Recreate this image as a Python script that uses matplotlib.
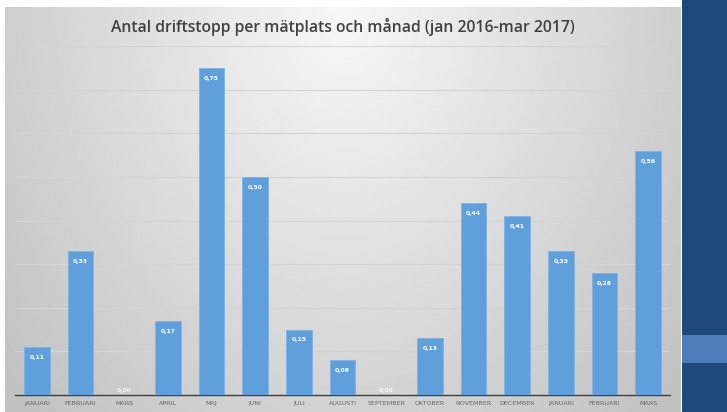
import matplotlib
matplotlib.use('Agg')
import matplotlib.pyplot as plt
import numpy as np
from matplotlib.patches import Rectangle

# data
months = ['JANUARI', 'FEBRUARI', 'MARS', 'APRIL', 'MAJ', 'JUNI', 'JULI', 'AUGUSTI',
          'SEPTEMBER', 'OKTOBER', 'NOVEMBER', 'DECEMBER', 'JANUARI', 'FEBRUARI', 'MARS']
values = [0.11, 0.33, 0.00, 0.17, 0.75, 0.50, 0.15, 0.08,
          0.00, 0.13, 0.44, 0.41, 0.33, 0.28, 0.56]

W, H = 727, 412
fig = plt.figure(figsize=(W / 100, H / 100), dpi=100)
fig.patch.set_facecolor('white')

# gray gradient background of the chart area
bg = fig.add_axes([5 / W, 0, 676 / W, (H - 7) / H])
xx, yy = np.meshgrid(np.linspace(-1, 1, 300), np.linspace(0, 1, 200))
r = np.sqrt((xx / 1.0) ** 2 + ((yy - 0.0) / 1.1) ** 2)
shade = 0.97 - 0.21 * np.clip(r, 0, 1.3) / 1.3
bg.imshow(shade, cmap='gray', vmin=0, vmax=1, aspect='auto', extent=[0, 1, 1, 0])
bg.set_axis_off()

# right dark panel
fig.add_artist(Rectangle((682 / W, 0), (W - 682) / W, 1, transform=fig.transFigure,
                         facecolor='#1f497d', edgecolor='none'))
fig.add_artist(Rectangle((682 / W, (H - 363) / H), (W - 682) / W, 28 / H,
                         transform=fig.transFigure, facecolor='#4c7dba', edgecolor='none'))

ax = fig.add_axes([15 / W, (H - 395) / H, 655 / W, 349 / H])
ax.patch.set_alpha(0)
x = np.arange(len(months))
ax.bar(x, values, width=0.59, color='#5f9fdb', edgecolor='#7fb3e3', linewidth=0.6, zorder=3)
ax.set_xlim(-0.5, len(months) - 0.5)
ax.set_ylim(0, 0.8)
ax.set_yticks(np.arange(0.1, 0.81, 0.1))
ax.yaxis.grid(True, color='#d4d4d4', linewidth=0.8, zorder=0)
ax.tick_params(axis='y', left=False, labelleft=False)
ax.tick_params(axis='x', length=0, pad=4)
ax.set_xticks(x)
ax.set_xticklabels(months, fontsize=4.6, color='#666666')
for s in ['top', 'right', 'left']:
    ax.spines[s].set_visible(False)
ax.spines['bottom'].set_color('#404040')
ax.spines['bottom'].set_linewidth(1.0)

for xi, v in zip(x, values):
    lbl = f'{v:.2f}'.replace('.', ',')
    if v > 0.03:
        ax.text(xi, v - 0.018, lbl, ha='center', va='top', fontsize=4.4,
                color='white', fontweight='bold', zorder=4)
    else:
        ax.text(xi, 0.005, lbl, ha='center', va='bottom', fontsize=4.4,
                color='#f4f4f4', fontweight='bold', zorder=4)

fig.text(0.472, (H - 27) / H, 'Antal driftstopp per mätplats och månad (jan 2016-mar 2017)',
         ha='center', va='center', fontsize=11.3, color='#404040',
         family='Open Sans', fontweight='semibold')

fig.savefig('out.png', dpi=100)
